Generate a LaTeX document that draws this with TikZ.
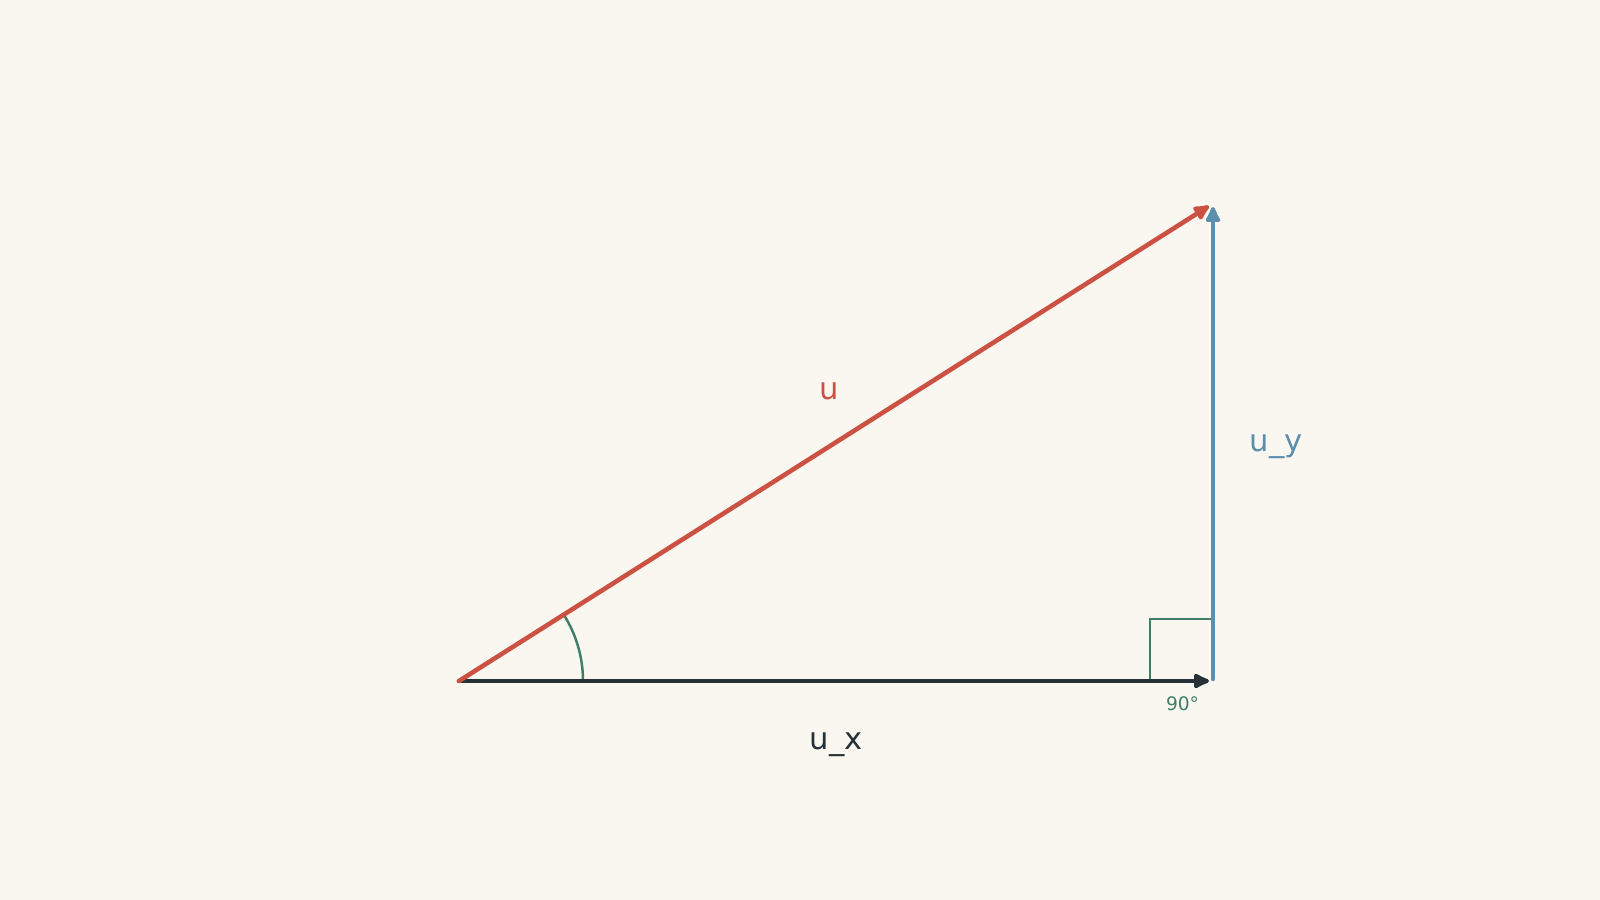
\documentclass[tikz,border=0pt]{standalone}
\usepackage{fontspec}
\setmainfont{DejaVu Sans}
\usetikzlibrary{arrows.meta}
\definecolor{bgc}{HTML}{FAF7F1}
\definecolor{redc}{HTML}{CB5142}
\definecolor{bluec}{HTML}{5B8FAB}
\definecolor{darkc}{HTML}{263238}
\definecolor{greenc}{HTML}{3E7E6A}
\tikzset{
  vec/.style={line width=1.3pt, line cap=round, -{Latex[length=5.6pt,width=5.2pt,round]}},
  helper/.style={greenc, line width=0.7pt},
  lbl/.style={font=\fontsize{8.7pt}{10pt}\selectfont, inner sep=0pt, anchor=base},
  smalllbl/.style={font=\fontsize{5.3pt}{6pt}\selectfont, inner sep=0pt, anchor=base, text=greenc}
}
\begin{document}
\begin{tikzpicture}[x=0.01cm,y=0.01cm]
  \fill[bgc] (0,0) rectangle (1600,900);
  \useasboundingbox (0,0) rectangle (1600,900);
  \coordinate (O) at (459,219);
  \coordinate (X) at (1209,219);
  \coordinate (B) at (1213,221);
  \coordinate (T) at (1213,693);
  \coordinate (U) at (1209,694);
  \coordinate (RA) at (1150,219);
  \coordinate (RB) at (1150,281);
  \coordinate (RC) at (1213,281);
  \coordinate (ArcS) at (583,219);
  % right angle marker
  \draw[helper] (RA) -- (RB) -- (RC);
  % angle arc
  \draw[helper] (ArcS) arc[start angle=0, end angle=32.35, radius=124];
  % vectors
  \draw[vec, darkc] (O) -- (X);
  \draw[vec, bluec] (B) -- (T);
  \draw[vec, redc] (O) -- (U);
  % labels
  \node[lbl, text=redc] (lu) at (829,500) {u};
  \node[lbl, text=bluec] (luy) at (1276,448) {u\_y};
  \node[lbl, text=darkc] (lux) at (836,150) {u\_x};
  \node[smalllbl] (l90) at (1182.5,189) {90°};
\end{tikzpicture}
\end{document}
